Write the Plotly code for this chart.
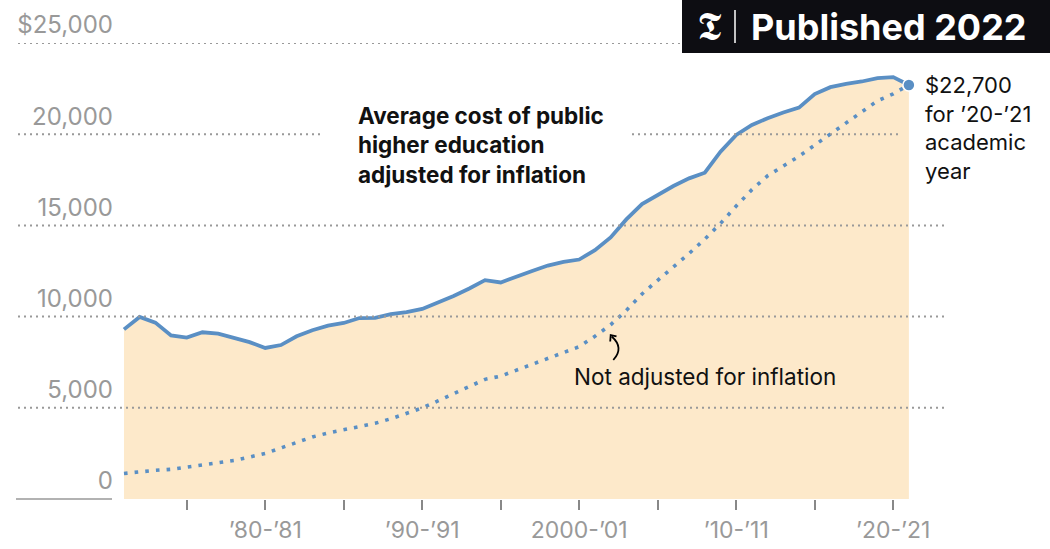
import plotly.graph_objects as go

# ---------------- data ----------------
years = list(range(1971, 2022))  # academic year index ('71-'72 ... '21-'22 position)

adjusted = [9300, 9980, 9670, 8970, 8850, 9140, 9070, 8850, 8600, 8280,
            8440, 8920, 9250, 9500, 9650, 9920, 9930, 10130, 10240, 10420,
            10750, 11130, 11540, 12000, 11870, 12210, 12500, 12800, 13000, 13130,
            13640, 14340, 15330, 16170, 16670, 17160, 17580, 17890, 19040, 19960,
            20510, 20880, 21190, 21460, 22200, 22580, 22760, 22890, 23080, 23130,
            22700]

not_adjusted = [1400, 1500, 1570, 1630, 1750, 1910, 2000, 2110, 2300, 2500,
                2800, 3120, 3400, 3620, 3800, 4000, 4150, 4400, 4680, 4990,
                5380, 5760, 6140, 6560, 6740, 7060, 7410, 7710, 8010, 8350,
                8920, 9550, 10340, 11240, 11990, 12710, 13460, 14250, 15110, 16060,
                16960, 17720, 18250, 18790, 19400, 20010, 20640, 21240, 21830, 22210,
                22700]

x_tick_vals = [1975, 1980, 1985, 1990, 1995, 2000, 2005, 2010, 2015, 2020]
x_tick_text = ["", "’80-’81", "", "’90-’91", "", "2000-’01", "", "’10-’11", "", "’20-’21"]

y_tick_vals = [0, 5000, 10000, 15000, 20000, 25000]
y_tick_text = ["0", "5,000", "10,000", "15,000", "20,000", "$25,000"]

# ---------------- geometry ----------------
W, H = 1050, 549
PL, PR, PT, PB = 18, 945, 43, 499
X0, X1 = 1964.25, 2023.3
Y0, Y1 = 0, 25000


def xd(px):
    return X0 + (px - PL) / (PR - PL) * (X1 - X0)


def yd(py):
    return Y0 + (PB - py) / (PB - PT) * (Y1 - Y0)


def xp(px):
    return (px - PL) / (PR - PL)


def yp(py):
    return (PB - py) / (PB - PT)


BLUE = "#5a8fc4"
FILL = "#fde9ca"
GRAY = "#999999"
FONT = "Inter, Liberation Sans, sans-serif"

fig = go.Figure()

fig.add_trace(go.Scatter(
    x=years, y=adjusted, mode="lines", fill="tozeroy", fillcolor=FILL,
    line=dict(color=BLUE, width=3.8), hoverinfo="skip", showlegend=False))

fig.add_trace(go.Scatter(
    x=years, y=not_adjusted, mode="lines",
    line=dict(color=BLUE, width=3.6, dash="3.6px,7.1px"),
    hoverinfo="skip", showlegend=False))

fig.add_trace(go.Scatter(
    x=[years[-1]], y=[adjusted[-1]], mode="markers",
    marker=dict(color=BLUE, size=12, line=dict(color="white", width=1.5)),
    hoverinfo="skip", showlegend=False))

shapes = []
grid_segments = [
    (5000, 18, 945), (10000, 18, 945), (15000, 18, 945),
    (20000, 18, 320), (20000, 632, 902), (25000, 18, 945),
]
for v, a, b in grid_segments:
    shapes.append(dict(type="line", xref="x", yref="y", x0=xd(a), x1=xd(b), y0=v, y1=v,
                       line=dict(color=GRAY, width=2, dash="2px,4px"), layer="above"))

# baseline under zero label
shapes.append(dict(type="line", xref="paper", yref="paper", x0=xp(16), x1=xp(112), y0=0, y1=0,
                   line=dict(color=GRAY, width=1.5), layer="above"))

# curved arrow
shapes.append(dict(type="path", xref="x", yref="y",
                   path=f"M {xd(613.3)},{yd(360)} Q {xd(624.5)},{yd(347.75)} {xd(611.7)},{yd(336.5)}",
                   line=dict(color="black", width=1.8), layer="above"))
shapes.append(dict(type="path", xref="x", yref="y",
                   path=f"M {xd(610.2)},{yd(341.5)} L {xd(610.7)},{yd(335)} L {xd(616.5)},{yd(336.3)}",
                   line=dict(color="black", width=1.8), layer="above"))

# logo box
shapes.append(dict(type="rect", xref="paper", yref="paper", x0=xp(682), x1=xp(1060),
                   y0=yp(53), y1=yp(-10), fillcolor="#0d0d12", line=dict(width=0), layer="above"))
shapes.append(dict(type="line", xref="paper", yref="paper", x0=xp(735), x1=xp(735),
                   y0=yp(43), y1=yp(10), line=dict(color="white", width=1.5), layer="above"))

annotations = [
    dict(xref="x", yref="y", x=xd(356), y=yd(145), xanchor="left", yanchor="middle", align="left",
         text="<b>Average cost of public<br>higher education<br>adjusted for inflation</b>",
         showarrow=False, font=dict(family=FONT, size=22.5, color="#111111")),
    dict(xref="x", yref="y", x=xd(923), y=yd(128), xanchor="left", yanchor="middle", align="left",
         text="$22,700<br>for ’20-’21<br>academic<br>year",
         showarrow=False, font=dict(family=FONT, size=22, color="#111111")),
    dict(xref="x", yref="y", x=xd(572), y=yd(376), xanchor="left", yanchor="middle", align="left",
         text="Not adjusted for inflation",
         showarrow=False, font=dict(family=FONT, size=22.5, color="#111111")),
    dict(xref="paper", yref="paper", x=xp(709.5), y=yp(26), xanchor="center", yanchor="middle",
         text="𝕿", showarrow=False, font=dict(family="DejaVu Serif, serif", size=40, color="white")),
    dict(xref="paper", yref="paper", x=xp(749), y=yp(27), xanchor="left", yanchor="middle",
         text="<b>Published 2022</b>", showarrow=False,
         font=dict(family=FONT, size=36, color="white")),
]

fig.update_layout(
    width=W, height=H,
    margin=dict(l=PL, r=W - PR, t=PT, b=H - PB, pad=0, autoexpand=False),
    paper_bgcolor="white", plot_bgcolor="white",
    font=dict(family=FONT, color=GRAY),
    xaxis=dict(range=[X0, X1], tickmode="array", tickvals=x_tick_vals, ticktext=x_tick_text,
               ticks="outside", ticklen=10, tickwidth=1.5, tickcolor="#888888",
               showgrid=False, zeroline=False, showline=False, automargin=False,
               tickfont=dict(family=FONT, size=23, color=GRAY)),
    yaxis=dict(range=[Y0, Y1], tickmode="array", tickvals=y_tick_vals, ticktext=y_tick_text,
               anchor="free", position=xp(113), side="left", automargin=False,
               ticks="", showgrid=False, zeroline=False, showline=False,
               ticklabelshift=-18, ticklabelstandoff=0,
               tickfont=dict(family=FONT, size=24, color=GRAY)),
    shapes=shapes, annotations=annotations, showlegend=False,
)

fig.write_html(
    "out.html",
    config={"displayModeBar": False},
    post_script="document.body.style.margin='0';document.body.style.overflow='hidden';",
)
